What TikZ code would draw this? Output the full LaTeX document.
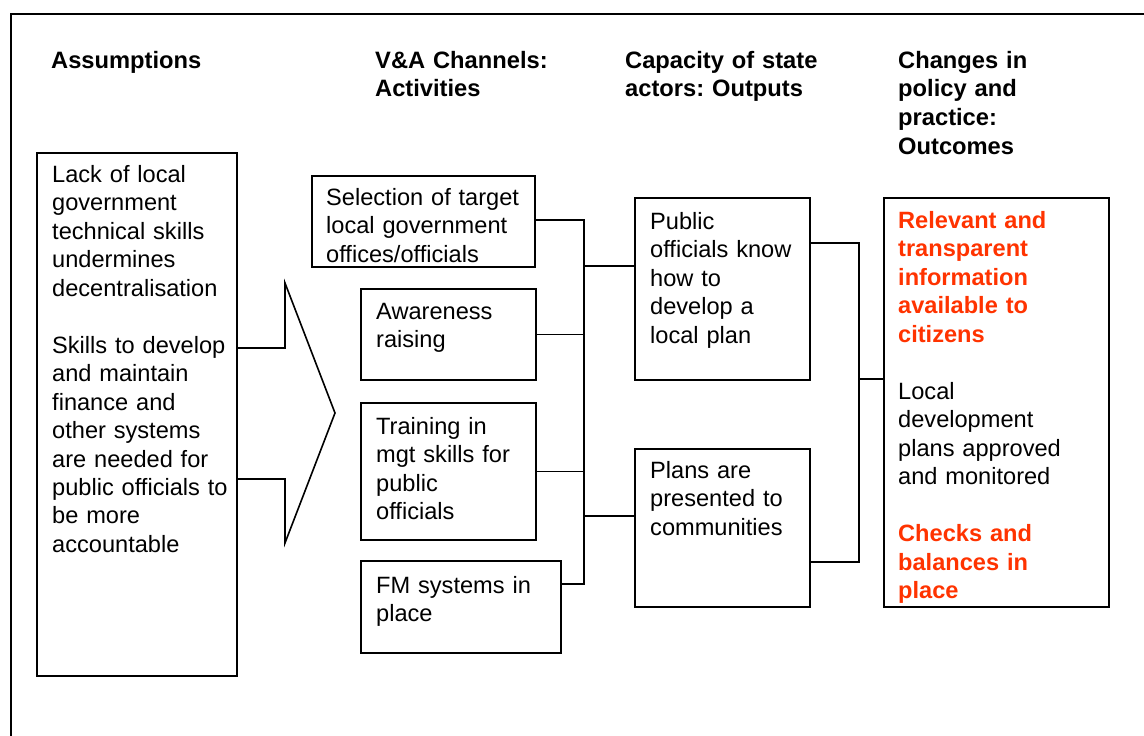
\documentclass[tikz,border=0pt]{standalone}
\usepackage{fontspec}
\setmainfont{Liberation Sans}
\definecolor{hl}{RGB}{255,51,0}
\begin{document}
\frenchspacing
\begin{tikzpicture}[x=1pt,y=-1pt,
  box/.style={draw=black, line width=1.6pt, inner sep=0pt, anchor=north west},
  txt/.style={anchor=base west, inner sep=0pt, text width=300pt, align=left,
    font=\fontsize{23.6}{28.5}\selectfont\frenchspacing},
  head/.style={txt, font=\fontsize{23.7}{28.7}\selectfont\bfseries\frenchspacing},
  wire/.style={line width=1.6pt}]
\useasboundingbox (0,0) rectangle (1144,736);
\clip (0,0) rectangle (1144,736);
\draw[line width=2.3pt] (11,14) rectangle (1147,760);

% headers
\node[head] (h1) at (51,68) {Assumptions};
\node[head] (h2) at (375,68) {V\&A Channels:\\Activities};
\node[head] (h3) at (625,68) {Capacity of state\\actors: Outputs};
\node[head] (h4) at (898,68) {Changes in\\policy and\\practice:\\Outcomes};

% boxes
\node[box, minimum width=200, minimum height=523] (asm) at (36,152) {};
\node[box, minimum width=223, minimum height=91] (sel) at (311,175) {};
\node[box, minimum width=175, minimum height=91] (awa) at (360,288) {};
\node[box, minimum width=175, minimum height=137] (trn) at (360,402) {};
\node[box, minimum width=200, minimum height=92] (fms) at (360,560) {};
\node[box, minimum width=175, minimum height=182] (pub) at (634,197) {};
\node[box, minimum width=175, minimum height=158] (pln) at (634,448) {};
\node[box, minimum width=225, minimum height=409] (out) at (883,197) {};

% texts
\node[txt] (asmT) at (52,182) {Lack of local\\government\\technical skills\\undermines\\decentralisation\\[28.5pt]Skills to develop\\and maintain\\finance and\\other systems\\are needed for\\public officials to\\be more\\accountable};
\node[txt] (selT) at (326,205) {Selection of target\\local government\\offices/officials};
\node[txt] (awaT) at (376,319) {Awareness\\raising};
\node[txt] (trnT) at (376,434) {Training in\\mgt skills for\\public\\officials};
\node[txt] (fmsT) at (376,593) {FM systems in\\place};
\node[txt] (pubT) at (650,229) {Public\\officials know\\how to\\develop a\\local plan};
\node[txt] (plnT) at (650,478) {Plans are\\presented to\\communities};
\node[txt] (outT) at (898,228) {\textcolor{hl}{\bfseries Relevant and\\transparent\\information\\available to\\citizens}\\[28.5pt]Local\\development\\plans approved\\and monitored\\[28.5pt]\textcolor{hl}{\bfseries Checks and\\balances in\\place}};

% big arrow
\draw[wire, line join=miter] (asm.east |- 0,348) -- (285,348) -- (285,283) -- (335,413) -- (285,543) -- (285,479) -- (asm.east |- 0,479);

% left bus
\coordinate (busA) at (584,220);
\coordinate (busB) at (584,584);
\coordinate (jA) at (584,266);
\coordinate (jB) at (584,516);
\draw[wire] (sel.east |- busA) -- (busA) -- (busB) -- (fms.east |- busB);
\draw[wire] (awa.east) -- (awa.east -| busA);
\draw[wire] (trn.east) -- (trn.east -| busA);
\draw[wire] (jA) -- (jA -| pub.west);
\draw[wire] (jB) -- (jB -| pln.west);

% right bus
\coordinate (rbA) at (859,243);
\coordinate (rbB) at (859,562);
\coordinate (rbC) at (859,379);
\draw[wire] (rbA -| pub.east) -- (rbA) -- (rbB) -- (rbB -| pln.east);
\draw[wire] (rbC) -- (rbC -| out.west);
\end{tikzpicture}
\end{document}
